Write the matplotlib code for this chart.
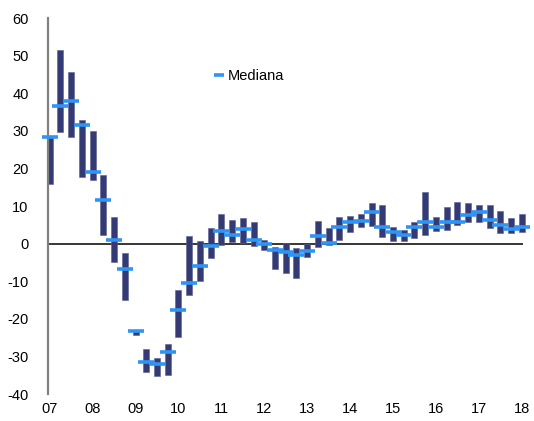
import numpy as np
import matplotlib.pyplot as plt
from matplotlib.lines import Line2D

plt.rcParams['font.family'] = ['Liberation Sans', 'DejaVu Sans']
plt.rcParams['axes.unicode_minus'] = False

# quarterly data, 07Q1 .. 18Q1
low = [15.8, 29.7, 28.4, 17.8, 16.8, 2.3, -4.9, -15.0, -24.4, -34.1,
       -35.3, -34.9, -24.8, -13.7, -9.9, -3.8, -0.4, 0.5, 0.2, -0.5,
       -1.8, -6.8, -7.8, -9.1, -3.5, -0.8, -0.3, 1.1, 3.0, 4.5,
       4.6, 1.7, 0.6, 0.8, 1.4, 2.4, 3.4, 3.5, 4.9, 5.7,
       5.7, 4.2, 2.9, 2.8, 3.0]
high = [28.7, 51.5, 45.6, 32.8, 29.9, 18.2, 7.1, -2.5, -23.0, -27.9,
        -30.3, -26.6, -12.3, 2.1, 0.7, 4.2, 7.9, 6.3, 6.8, 5.7,
        0.9, -1.0, 0.3, -1.1, 0.0, 5.9, 4.1, 7.0, 7.3, 7.9,
        10.7, 10.3, 4.5, 3.5, 5.8, 13.8, 7.0, 9.7, 11.0, 10.7,
        10.3, 10.3, 8.6, 6.9, 7.9]
median = [28.3, 36.7, 38.0, 31.6, 19.0, 11.6, 1.0, -6.8, -23.3, -31.4,
          -32.1, -28.8, -17.6, -10.6, -5.9, -0.6, 3.4, 2.3, 4.0, 1.0,
          -0.2, -1.6, -2.1, -3.1, -1.9, 2.0, 0.3, 4.3, 5.7, 6.0,
          8.3, 4.5, 3.2, 2.2, 4.5, 5.8, 4.5, 5.7, 5.7, 7.7,
          8.5, 6.4, 4.9, 3.8, 4.4]
years = ['07', '08', '09', '10', '11', '12', '13', '14', '15', '16', '17', '18']

low = np.array(low)
high = np.array(high)
x = np.arange(len(low))

fig = plt.figure(figsize=(5.34, 4.21), dpi=100)
ax = fig.add_axes([0.0899, 0.0641, 0.8901, 0.8929])

ax.bar(x, high - low, bottom=low, width=0.56, color='#343b74',
       edgecolor='#5a6090', linewidth=0.4, clip_on=False, zorder=2)
ax.plot(x, median, linestyle='none', marker='_', markersize=11,
        markeredgewidth=2.6, color='#2e95f5', clip_on=False, zorder=3)

ax.axhline(0, color='black', linewidth=1.1, zorder=1)

ax.set_ylim(-40, 60)
ax.set_xlim(-0.16, 44.15)
ax.set_yticks(range(-40, 61, 10))
ax.set_xticks(range(0, 45, 4))
ax.set_xticklabels(years)
ax.tick_params(axis='both', length=0, labelsize=10.5, colors='black')
ax.tick_params(axis='y', pad=14)
ax.tick_params(axis='x', pad=6)

for s in ['top', 'right', 'bottom']:
    ax.spines[s].set_visible(False)
ax.spines['left'].set_color('#808080')
ax.spines['left'].set_linewidth(1.6)

handle = Line2D([], [], linestyle='none', marker='_', markersize=7,
                markeredgewidth=2.6, color='#2e95f5')
ax.legend([handle], ['Mediana'], loc='center left',
          bbox_to_anchor=(0.322, 0.845), frameon=False, fontsize=10.5,
          handlelength=0.7, handletextpad=0.2)

plt.savefig('out.png', dpi=100)
